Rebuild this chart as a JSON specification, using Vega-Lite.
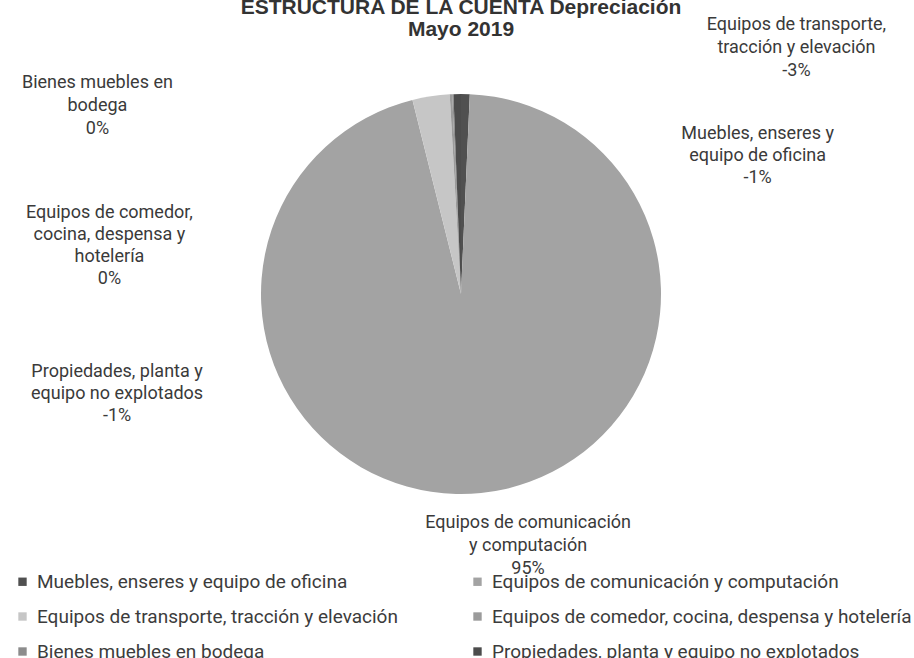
{
  "$schema": "https://vega.github.io/schema/vega-lite/v6.json",
  "autosize": {"type": "none"},
  "width": 906,
  "height": 588,
  "padding": {"left": 8, "top": 0, "right": 0, "bottom": 70},
  "background": "white",
  "title": {
    "text": ["ESTRUCTURA DE LA CUENTA Depreciación", "Mayo 2019"],
    "frame": "group",
    "anchor": "middle",
    "offset": -40,
    "fontSize": 21,
    "font": "Liberation Sans",
    "fontWeight": "bold",
    "lineHeight": 22,
    "color": "#333333"
  },
  "data": {
    "values": [
      {"categoria": "Muebles, enseres y equipo de oficina", "orden": 1, "valor": 0.7, "etiqueta": "Muebles, enseres y\nequipo de oficina\n-1%"},
      {"categoria": "Equipos de comunicación y computación", "orden": 2, "valor": 95.4, "etiqueta": "Equipos de comunicación\ny computación\n95%"},
      {"categoria": "Equipos de transporte, tracción y elevación", "orden": 3, "valor": 3.0, "etiqueta": "Equipos de transporte,\ntracción y elevación\n-3%"},
      {"categoria": "Equipos de comedor, cocina, despensa y hotelería", "orden": 4, "valor": 0.2, "etiqueta": "Equipos de comedor,\ncocina, despensa y\nhotelería\n0%"},
      {"categoria": "Bienes muebles en bodega", "orden": 5, "valor": 0.1, "etiqueta": "Bienes muebles en\nbodega\n0%"},
      {"categoria": "Propiedades, planta y equipo no explotados", "orden": 6, "valor": 0.6, "etiqueta": "Propiedades, planta y\nequipo no explotados\n-1%"}
    ]
  },
  "layer": [
    {
      "mark": {"type": "arc", "outerRadius": 200},
      "encoding": {
        "theta": {"field": "valor", "type": "quantitative", "stack": true},
        "order": {"field": "orden", "type": "quantitative"},
        "color": {
          "field": "categoria",
          "type": "nominal",
          "scale": {
            "domain": [
              "Muebles, enseres y equipo de oficina",
              "Equipos de transporte, tracción y elevación",
              "Bienes muebles en bodega",
              "Equipos de comunicación y computación",
              "Equipos de comedor, cocina, despensa y hotelería",
              "Propiedades, planta y equipo no explotados"
            ],
            "range": ["#505050", "#c6c6c6", "#8c8c8c", "#a3a3a3", "#9b9b9b", "#4c4c4c"]
          },
          "legend": {
            "orient": "none",
            "legendX": 5,
            "legendY": 572,
            "columns": 2,
            "title": null,
            "symbolType": "square",
            "symbolSize": 70,
            "symbolStrokeWidth": 0,
            "labelFont": "Roboto",
            "labelFontSize": 19,
            "labelColor": "#3c3c3c",
            "labelLimit": 600,
            "labelOffset": 5,
            "rowPadding": 15,
            "columnPadding": 70,
            "padding": 0
          }
        }
      }
    },
    {
      "mark": {"type": "text", "radius": 210, "dx": 292, "dy": 55, "lineBreak": "\n", "align": "center", "baseline": "alphabetic", "font": "Roboto", "fontSize": 18, "lineHeight": 22, "color": "#3a3a3a"},
      "encoding": {
        "theta": {"field": "valor", "type": "quantitative", "stack": true},
        "order": {"field": "orden", "type": "quantitative"},
        "text": {"field": "etiqueta", "condition": {"test": "datum.orden !== 1", "value": ""}}
      }
    },
    {
      "mark": {"type": "text", "radius": 210, "dx": 46, "dy": 25, "lineBreak": "\n", "align": "center", "baseline": "alphabetic", "font": "Roboto", "fontSize": 18, "lineHeight": 23, "color": "#3a3a3a"},
      "encoding": {
        "theta": {"field": "valor", "type": "quantitative", "stack": true},
        "order": {"field": "orden", "type": "quantitative"},
        "text": {"field": "etiqueta", "condition": {"test": "datum.orden !== 2", "value": ""}}
      }
    },
    {
      "mark": {"type": "text", "radius": 210, "dx": 367, "dy": -56, "lineBreak": "\n", "align": "center", "baseline": "alphabetic", "font": "Roboto", "fontSize": 18, "lineHeight": 23, "color": "#3a3a3a"},
      "encoding": {
        "theta": {"field": "valor", "type": "quantitative", "stack": true},
        "order": {"field": "orden", "type": "quantitative"},
        "text": {"field": "etiqueta", "condition": {"test": "datum.orden !== 3", "value": ""}}
      }
    },
    {
      "mark": {"type": "text", "radius": 210, "dx": -341, "dy": 134, "lineBreak": "\n", "align": "center", "baseline": "alphabetic", "font": "Roboto", "fontSize": 18, "lineHeight": 22, "color": "#3a3a3a"},
      "encoding": {
        "theta": {"field": "valor", "type": "quantitative", "stack": true},
        "order": {"field": "orden", "type": "quantitative"},
        "text": {"field": "etiqueta", "condition": {"test": "datum.orden !== 4", "value": ""}}
      }
    },
    {
      "mark": {"type": "text", "radius": 210, "dx": -355, "dy": 4, "lineBreak": "\n", "align": "center", "baseline": "alphabetic", "font": "Roboto", "fontSize": 18, "lineHeight": 23, "color": "#3a3a3a"},
      "encoding": {
        "theta": {"field": "valor", "type": "quantitative", "stack": true},
        "order": {"field": "orden", "type": "quantitative"},
        "text": {"field": "etiqueta", "condition": {"test": "datum.orden !== 5", "value": ""}}
      }
    },
    {
      "mark": {"type": "text", "radius": 210, "dx": -340, "dy": 293, "lineBreak": "\n", "align": "center", "baseline": "alphabetic", "font": "Roboto", "fontSize": 18, "lineHeight": 22, "color": "#3a3a3a"},
      "encoding": {
        "theta": {"field": "valor", "type": "quantitative", "stack": true},
        "order": {"field": "orden", "type": "quantitative"},
        "text": {"field": "etiqueta", "condition": {"test": "datum.orden !== 6", "value": ""}}
      }
    }
  ],
  "config": {"view": {"stroke": null}}
}
